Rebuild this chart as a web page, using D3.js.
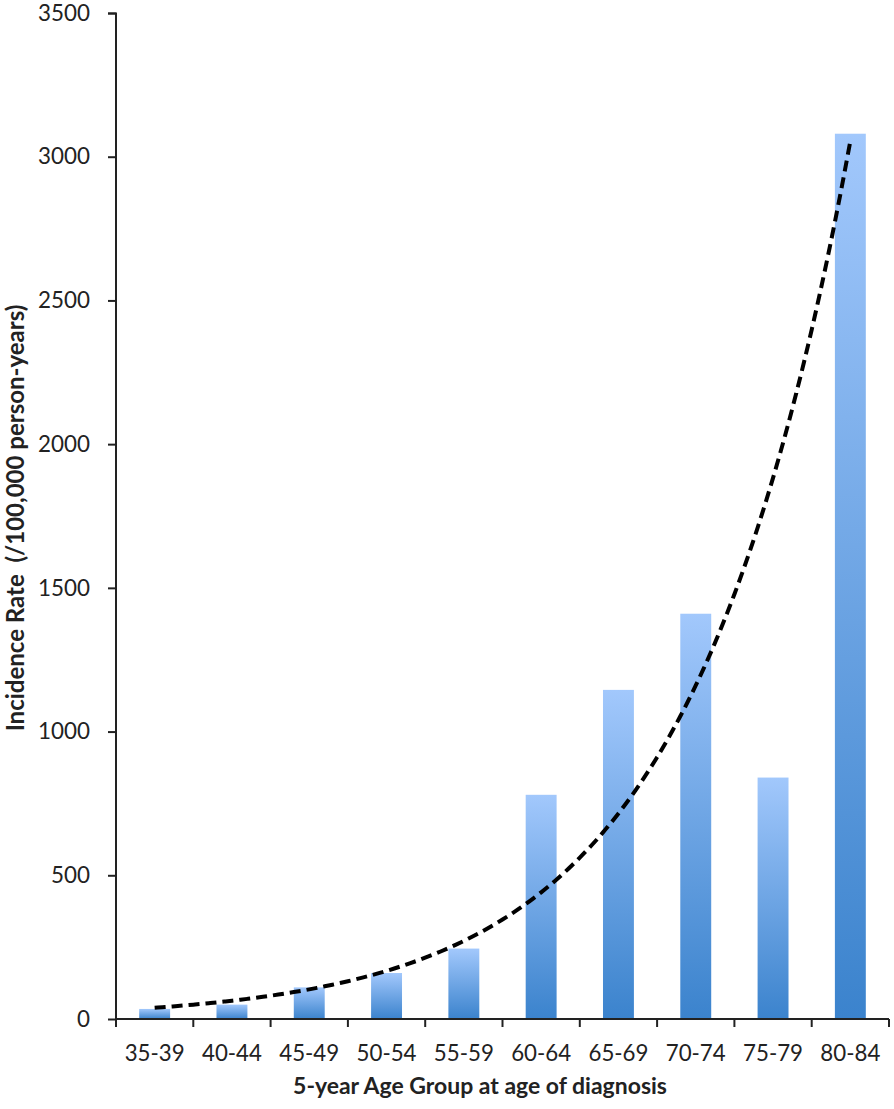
<!DOCTYPE html>
<html>
<head>
<meta charset="utf-8">
<script src="https://cdn.jsdelivr.net/npm/d3@7/dist/d3.min.js"></script>
<style>
  body { margin: 0; background: #fff; }
  svg { display: block; }
  text { font-family: Lato, "Open Sans", sans-serif; fill: #222; }
</style>
</head>
<body>
<svg id="chart" width="894" height="1109"></svg>
<script>
var ageGroups = ["35-39", "40-44", "45-49", "50-54", "55-59", "60-64", "65-69", "70-74", "75-79", "80-84"];
var incidence = [35, 50, 110, 160, 245, 780, 1145, 1410, 840, 3080];
var yTicks = [0, 500, 1000, 1500, 2000, 2500, 3000, 3500];
var xTitle = "5-year Age Group at age of diagnosis";
var yTitle = "Incidence Rate\u00a0\u00a0(/100,000 person-years)";

var margin = { left: 116, right: 5, top: 13, bottom: 90 };

var svg = d3.select("#chart");

// font size that makes a string a given width
function fitSize(str, weight, target) {
    var t = svg.append("text").style("font-size", "100px").style("font-weight", weight).text(str);
    var w = t.node().getComputedTextLength();
    t.remove();
    return 100 * target / w;
}
var tickSize = fitSize("3500", "normal", 52);
var xTickSize = fitSize("35-39", "normal", 60);
var xTitleSize = fitSize(xTitle, "bold", 374);
var yTitleSize = fitSize(yTitle, "bold", 427);

var x = d3.scaleBand()
    .domain(ageGroups)
    .range([margin.left, 889])
    .paddingInner(0.6)
    .paddingOuter(0.3);

var y = d3.scaleLinear()
    .domain([0, 3500])
    .range([1019, margin.top]);

// gradient for bars, light at the top, darker at the base
var grad = svg.append("defs").append("linearGradient")
    .attr("id", "barGrad")
    .attr("x1", 0).attr("y1", 0).attr("x2", 0).attr("y2", 1);
grad.append("stop").attr("offset", "0%").attr("stop-color", "#a2c8fc");
grad.append("stop").attr("offset", "100%").attr("stop-color", "#3b83cd");

svg.append("g").selectAll("rect")
    .data(incidence)
    .enter().append("rect")
    .attr("x", function (d, i) { return x(ageGroups[i]); })
    .attr("y", function (d) { return y(d); })
    .attr("width", x.bandwidth())
    .attr("height", function (d) { return y(0) - y(d); })
    .style("fill", "url(#barGrad)");

// exponential trendline (least squares fit on log values, like Excel)
var n = incidence.length;
var xs = d3.range(1, n + 1);
var lns = incidence.map(function (v) { return Math.log(v); });
var mx = d3.mean(xs), ml = d3.mean(lns);
var num = 0, den = 0;
for (var i = 0; i < n; i++) {
    num += (xs[i] - mx) * (lns[i] - ml);
    den += (xs[i] - mx) * (xs[i] - mx);
}
var b = num / den;
var a = ml - b * mx;
var trend = d3.range(1, n + 0.001, 0.1).map(function (t) {
    return [t, Math.exp(a + b * t)];
});

var xIdx = d3.scaleLinear()
    .domain([1, n])
    .range([x(ageGroups[0]) + x.bandwidth() / 2, x(ageGroups[n - 1]) + x.bandwidth() / 2]);

svg.append("path")
    .datum(trend)
    .attr("d", d3.line()
        .x(function (d) { return xIdx(d[0]); })
        .y(function (d) { return y(d[1]); })
        .curve(d3.curveMonotoneX))
    .style("fill", "none")
    .style("stroke", "#000")
    .style("stroke-width", 4)
    .style("stroke-dasharray", "11,6");

// y axis
var yAxis = svg.append("g")
    .attr("transform", "translate(" + margin.left + ",0)")
    .call(d3.axisLeft(y).tickValues(yTicks).tickSize(8).tickPadding(18).tickFormat(d3.format("d")));
yAxis.select(".domain").attr("stroke", "#222").attr("stroke-width", 2).attr("d", "M-8,13.5H0V1019");
yAxis.selectAll(".tick line").attr("stroke", "#222").attr("stroke-width", 2);
yAxis.selectAll(".tick text")
    .style("font-size", tickSize + "px")
    .style("font-family", "Lato, 'Open Sans', sans-serif")
    .attr("fill", "#222");

// x axis, ticks at category boundaries
var xAxis = svg.append("g")
    .attr("transform", "translate(0,1019)");
xAxis.append("line")
    .attr("x1", margin.left).attr("x2", 889)
    .attr("stroke", "#222").attr("stroke-width", 2);
var step = x.step();
xAxis.selectAll(".xtick")
    .data(d3.range(0, n + 1))
    .enter().append("line")
    .attr("x1", function (d) { return x(ageGroups[0]) - step * 0.3 + d * step; })
    .attr("x2", function (d) { return x(ageGroups[0]) - step * 0.3 + d * step; })
    .attr("y1", 0).attr("y2", 8)
    .attr("stroke", "#222").attr("stroke-width", 2);
xAxis.selectAll(".xlabel")
    .data(ageGroups)
    .enter().append("text")
    .attr("x", function (d) { return x(d) + x.bandwidth() / 2; })
    .attr("y", 42)
    .attr("text-anchor", "middle")
    .style("font-size", xTickSize + "px")
    .text(function (d) { return d; });

// axis titles
svg.append("text")
    .attr("x", 480)
    .attr("y", 1094)
    .attr("text-anchor", "middle")
    .style("font-size", xTitleSize + "px")
    .style("font-weight", "bold")
    .text(xTitle);

svg.append("text")
    .attr("transform", "translate(24,518) rotate(-90)")
    .attr("text-anchor", "middle")
    .style("font-size", yTitleSize + "px")
    .style("font-weight", "bold")
    .text(yTitle);
</script>
</body>
</html>
